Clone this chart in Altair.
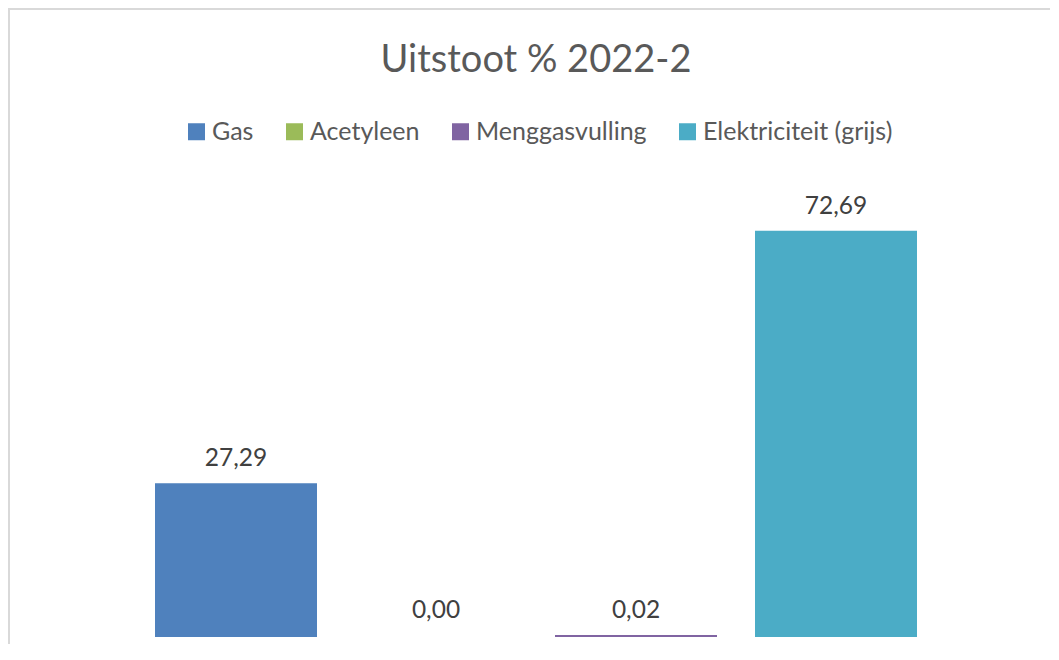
import altair as alt
import pandas as pd

categories = ["Gas", "Acetyleen", "Menggasvulling", "Elektriciteit (grijs)"]
values = [27.29, 0.00, 0.02, 72.69]
colors = ["#4F81BD", "#9BBB59", "#8064A2", "#4BACC6"]

df = pd.DataFrame({"category": categories, "value": values})

FONT = "Lato"

base = alt.Chart(df).transform_calculate(
    label="replace(format(datum.value, '.2f'), '.', ',')"
)

x_enc = alt.X("category:N", sort=categories, axis=None,
              scale=alt.Scale(paddingInner=0.2, paddingOuter=0.1))
y_enc = alt.Y("value:Q", axis=None, scale=alt.Scale(domain=[0, 80]))

bars = base.mark_bar().encode(
    x=x_enc,
    y=y_enc,
    color=alt.Color(
        "category:N",
        sort=categories,
        scale=alt.Scale(domain=categories, range=colors),
        legend=alt.Legend(
            orient="none", legendX=48, legendY=-72, direction="horizontal",
            title=None, symbolType="square", symbolSize=289, symbolStrokeWidth=0,
            labelFontSize=25, labelFont=FONT, labelColor="#595959",
            columnPadding=28, labelOffset=3, labelLimit=0,
        ),
    ),
    stroke=alt.Color("category:N", scale=alt.Scale(domain=categories, range=colors), legend=None),
    strokeWidth=alt.condition("datum.value > 0", alt.value(2), alt.value(0)),
)

labels = base.mark_text(baseline="alphabetic", dy=-18, fontSize=24.5, font=FONT,
                        color="#404040").encode(
    x=x_enc, y=y_enc, text="label:N"
)

border = alt.Chart(pd.DataFrame({"a": [0]})).mark_rect(
    filled=False, stroke="#d9d9d9", strokeWidth=2
).encode(
    x=alt.value(-127), y=alt.value(-182), x2=alt.value(3000), y2=alt.value(3000)
)

chart = alt.layer(border, bars, labels).properties(
    width=800,
    height=445,
    title=alt.TitleParams("Uitstoot % 2022-2", fontSize=38, font=FONT, color="#595959",
                          fontWeight="normal", anchor="middle", offset=-102,
                          baseline="alphabetic"),
    autosize=alt.AutoSizeParams(type="none"),
    padding={"left": 128, "top": 183, "right": 114, "bottom": 8},
).configure(background="white", view=alt.ViewConfig(stroke=None))

chart.save("out.html", embed_options={"renderer": "svg", "actions": False})
